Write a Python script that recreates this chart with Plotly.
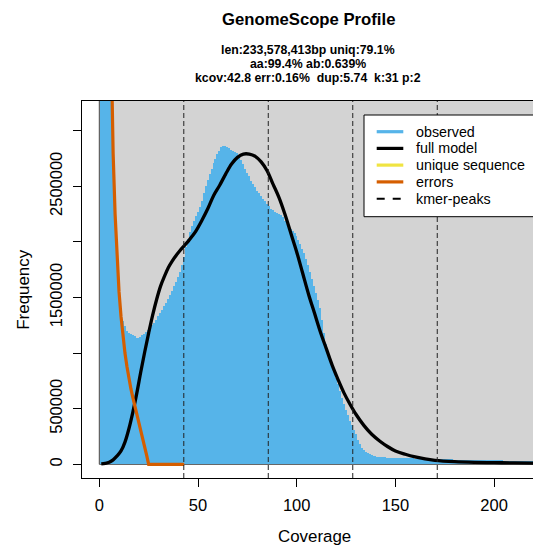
import plotly.graph_objects as go

# ---------------- data ----------------
obs_cov = list(range(1, 226))
obs_freq = [
    22000000, 9500000, 6200000, 4800000, 4100000, 3600000, 2850000, 2250000, 1820000, 1520000,  # 1-10
    1380000, 1290000, 1240000, 1200000, 1180000, 1170000, 1160000, 1150000, 1140000, 1140000,  # 11-20
    1145000, 1160000, 1175000, 1190000, 1210000, 1230000, 1250000, 1270000, 1300000, 1330000,  # 21-30
    1360000, 1390000, 1420000, 1450000, 1490000, 1520000, 1560000, 1600000, 1640000, 1680000,  # 31-40
    1730000, 1790000, 1860000, 1950000, 2030000, 2090000, 2140000, 2190000, 2230000, 2270000,  # 41-50
    2310000, 2370000, 2440000, 2500000, 2560000, 2610000, 2660000, 2710000, 2750000, 2790000,  # 51-60
    2820000, 2850000, 2865000, 2860000, 2850000, 2840000, 2830000, 2820000, 2810000, 2800000,  # 61-70
    2780000, 2740000, 2700000, 2660000, 2620000, 2590000, 2550000, 2520000, 2490000, 2460000,  # 71-80
    2440000, 2410000, 2390000, 2370000, 2340000, 2320000, 2300000, 2290000, 2270000, 2260000,  # 81-90
    2250000, 2240000, 2220000, 2190000, 2160000, 2140000, 2120000, 2100000, 2080000, 2050000,  # 91-100
    2020000, 1980000, 1940000, 1900000, 1850000, 1790000, 1730000, 1670000, 1600000, 1540000,  # 101-110
    1480000, 1410000, 1300000, 1180000, 1080000, 1010000, 950000, 900000, 840000, 780000,      # 111-120
    720000, 660000, 600000, 540000, 490000, 440000, 390000, 350000, 310000, 270000,            # 121-130
    220000, 180000, 150000, 130000, 115000, 100000, 90000, 82000, 76000, 72000,                # 131-140
    69000, 67000, 65000, 63000, 62000, 61000, 60000, 59000, 58000, 57000,                      # 141-150
    56500, 56000, 55500, 55000, 54500, 54000, 53500, 53000, 52500, 52000,                      # 151-160
    51500, 51000, 50500, 50000, 49500, 49000, 48500, 48000, 47500, 47000,                      # 161-170
    46500, 46000, 45800, 45500, 45000, 44600, 44200, 43800, 43400, 43000,                      # 171-180
    42600, 42300, 42000, 41700, 41400, 41100, 40800, 40500, 40200, 40000,                      # 181-190
    39600, 39200, 38800, 38400, 38000, 37600, 37200, 36800, 36400, 36000,                      # 191-200
    35600, 35200, 34800, 34400, 34000, 33600, 33200, 32800, 32400, 32000,                      # 201-210
    31700, 31400, 31100, 30800, 30500, 30200, 29900, 29600, 29300, 29000,                      # 211-220
    28800, 28600, 28400, 28200, 28000,                                                          # 221-225
]

model_cov = [1, 3, 5, 7, 9, 11, 13, 15, 17, 19, 21, 23, 25, 27, 29, 31, 33, 35, 37, 39, 41, 43,
             45, 47, 49, 52, 55, 58, 61, 64, 67, 70, 73, 76, 79, 82, 85, 88, 91, 94, 97, 100,
             103, 106, 109, 112, 115, 118, 121, 124, 127, 130, 134, 138, 142, 146, 150, 155,
             160, 165, 170, 180, 190, 200, 210, 220, 230]
model_freq = [3000, 8000, 18000, 40000, 75000, 120000, 200000, 320000, 470000, 640000, 830000,
              1010000, 1180000, 1340000, 1480000, 1600000, 1690000, 1770000, 1830000, 1880000,
              1925000, 1965000, 2005000, 2050000, 2100000, 2195000, 2300000, 2420000, 2510000,
              2610000, 2700000, 2760000, 2790000, 2790000, 2770000, 2720000, 2640000, 2520000,
              2400000, 2250000, 2080000, 1910000, 1720000, 1530000, 1360000, 1190000, 1040000,
              890000, 760000, 640000, 540000, 450000, 350000, 270000, 210000, 160000, 120000,
              90000, 66000, 48000, 36000, 24000, 18000, 15000, 12000, 10000, 9000]

err_cov = list(range(1, 44))
err_freq = [30000000, 15000000, 9000000, 6500000, 4800000, 3600000, 2800000, 2250000, 1850000,
            1550000, 1330000, 1150000, 1000000, 880000, 770000, 680000, 600000, 530000, 450000,
            380000, 310000, 240000, 160000, 80000, 0, 0, 0, 0, 0, 0, 0, 0, 0, 0, 0, 0, 0, 0, 0,
            0, 0, 0, 0]

kmer_peaks = [42.8, 85.6, 128.4, 171.2]

x_ticks = [0, 50, 100, 150, 200]
y_ticks = [0, 500000, 1000000, 1500000, 2000000, 2500000, 3000000]
y_tick_text = ["0", "500000", "", "1500000", "", "2500000", ""]

title = "GenomeScope Profile"
subtitle = ["len:233,578,413bp uniq:79.1%",
            "aa:99.4% ab:0.639%",
            "kcov:42.8 err:0.16%  dup:5.74  k:31 p:2"]
legend_names = ["observed", "full model", "unique sequence", "errors", "kmer-peaks"]
legend_colors = ["#56B4E9", "#000000", "#F0E442", "#D55E00", "#000000"]

# ---------------- layout geometry ----------------
W, H = 533, 546
PL, PT, PR, PB = 82, 101, 533, 478
FONT = "Liberation Sans, Arial, Helvetica, sans-serif"


def fx(px):
    return (px - PL) / (PR - PL)


def fy(py):
    return (PB - py) / (PB - PT)


fig = go.Figure()

fig.add_trace(go.Bar(x=obs_cov, y=obs_freq, width=0.8, marker=dict(color="#56B4E9", line=dict(width=0)),
                     name="observed", showlegend=False))
fig.add_trace(go.Scatter(x=model_cov, y=model_freq, mode="lines", line=dict(color="black", width=3.3, shape="spline"),
                         name="full model", showlegend=False))
fig.add_trace(go.Scatter(x=err_cov, y=err_freq, mode="lines", line=dict(color="#D55E00", width=3.2),
                         name="errors", showlegend=False))

shapes = []
# grey background rectangle (x>=0, y>=0)
shapes.append(dict(type="rect", xref="x", yref="y", x0=0, x1=300, y0=0, y1=5e7,
                   fillcolor="#D3D3D3", line=dict(color="#444444", width=1), layer="below"))
# kmer peak lines
for p in kmer_peaks:
    shapes.append(dict(type="line", xref="x", yref="paper", x0=p, x1=p, y0=0, y1=1,
                       line=dict(color="#222222", width=1, dash="5px,3px"), layer="above"))
# legend box
shapes.append(dict(type="rect", xref="paper", yref="paper", x0=fx(364), x1=fx(548), y0=fy(216.7), y1=fy(115),
                   fillcolor="white", line=dict(color="black", width=1), layer="above"))
leg_y = [131.7, 148.4, 165.1, 181.9, 198.7]
annotations = []
for i, (name, col) in enumerate(zip(legend_names, legend_colors)):
    if name == "kmer-peaks":
        shapes.append(dict(type="line", xref="paper", yref="paper", x0=fx(376.7), x1=fx(403.3),
                           y0=fy(leg_y[i]), y1=fy(leg_y[i]),
                           line=dict(color=col, width=2, dash="8px,8px"), layer="above"))
    else:
        shapes.append(dict(type="line", xref="paper", yref="paper", x0=fx(376.7), x1=fx(403.3),
                           y0=fy(leg_y[i]), y1=fy(leg_y[i]),
                           line=dict(color=col, width=3.2), layer="above"))
    annotations.append(dict(text=name, xref="paper", yref="paper", x=fx(414), y=fy(leg_y[i]),
                            xanchor="left", yanchor="middle", showarrow=False,
                            font=dict(family=FONT, size=14.3, color="black")))

# titles
annotations.append(dict(text="<b>" + title + "</b>", xref="paper", yref="paper", x=fx(308), y=fy(19.5),
                        xanchor="center", yanchor="middle", showarrow=False,
                        font=dict(family=FONT, size=16.7, color="black")))
for t, yy in zip(subtitle, [50.5, 64.5, 78.5]):
    annotations.append(dict(text="<b>" + t + "</b>", xref="paper", yref="paper", x=fx(308), y=fy(yy),
                            xanchor="center", yanchor="middle", showarrow=False,
                            font=dict(family=FONT, size=12.3, color="black")))
annotations.append(dict(text="Coverage", xref="paper", yref="paper", x=fx(314), y=fy(536),
                        xanchor="center", yanchor="middle", showarrow=False,
                        font=dict(family=FONT, size=16.9, color="black")))
annotations.append(dict(text="Frequency", xref="paper", yref="paper", x=fx(22.7), y=fy(290),
                        xanchor="center", yanchor="middle", showarrow=False, textangle=-90,
                        font=dict(family=FONT, size=16.9, color="black")))

fig.update_layout(
    width=W, height=H,
    margin=dict(l=PL, r=W - PR, t=PT, b=H - PB, pad=0),
    paper_bgcolor="white", plot_bgcolor="white",
    showlegend=False, bargap=0,
    shapes=shapes, annotations=annotations,
    font=dict(family=FONT, size=16.5, color="black"),
)
fig.update_xaxes(range=[(PL - 99.3) / 1.974, (PR - 99.3) / 1.974], tickvals=x_ticks,
                 ticks="outside", ticklen=8, tickcolor="black", tickwidth=1,
                 showline=True, mirror=True, linecolor="black", linewidth=1,
                 showgrid=False, zeroline=False, ticklabelstandoff=4,
                 tickfont=dict(family=FONT, size=16.5, color="black"))
fig.update_yaxes(range=[(464.3 - PB) / 111.2 * 1e6, (464.3 - PT) / 111.2 * 1e6], tickvals=y_ticks,
                 ticktext=y_tick_text, tickangle=-90,
                 ticks="outside", ticklen=8, tickcolor="black", tickwidth=1,
                 showline=True, mirror=False, linecolor="black", linewidth=1,
                 showgrid=False, zeroline=False, ticklabelstandoff=4,
                 tickfont=dict(family=FONT, size=16.5, color="black"))

fig.write_html("out.html")
